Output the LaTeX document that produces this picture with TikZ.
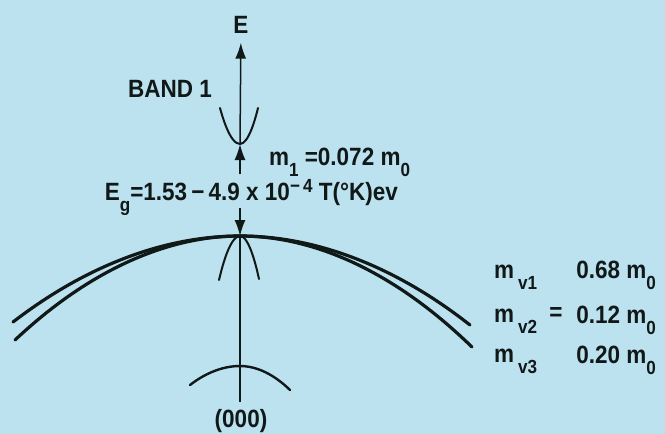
\documentclass[tikz,border=0pt]{standalone}
\usepackage{fontspec}
\setmainfont{Liberation Sans}[FakeStretch=0.9]
\usetikzlibrary{arrows.meta}

\definecolor{paper}{RGB}{188,226,240}
\definecolor{ink}{RGB}{16,24,24}

\newcommand{\lowr}[1]{\raisebox{-5.5pt}{\fontsize{9.5}{10}\selectfont #1}}
\newcommand{\highr}[1]{\raisebox{4pt}{\fontsize{9.5}{10}\selectfont #1}}

\begin{document}
\begin{tikzpicture}[x=0.5pt, y=-0.5pt,
    every node/.style={font=\fontsize{12.5}{14}\selectfont\bfseries, text=ink},
    band/.style={ink, line width=1.6pt, line cap=round},
    thinband/.style={ink, line width=1pt, line cap=round},
    axis/.style={ink, line width=0.75pt},
    tip/.style={-{Latex[length=8pt, width=5.5pt]}}]
    \fill[paper] (0,0) rectangle (665,434);
    \useasboundingbox (0,0) rectangle (665,434);

    % k = 0 points
    \coordinate (cbmin) at (240,144);
    \coordinate (vbmax) at (240,236);
    \coordinate (somax) at (240,366);
    \coordinate (gamma) at (240,402);
    \coordinate (m1tail) at (240,174);
    \coordinate (egtail) at (240,208);

    \node (E) at (241,25) {E};
    \draw[axis, tip, shorten >=1pt] (cbmin) -- (E);
    \draw[axis, tip] (m1tail) -- (cbmin);
    \draw[axis, tip] (egtail) -- (vbmax);
    \draw[axis] (vbmax) -- (gamma);

    % bands
    \draw[thinband] (220,108) parabola bend (cbmin) (258,108);
    \draw[band] (13,322) parabola bend (vbmax) (470,325);
    \draw[band] (15,340) parabola bend (vbmax) (472,347);
    \draw[thinband] (219,280) parabola bend (vbmax) (259,279);
    \draw[thinband, line width=1.2pt] (190,385) parabola bend (somax) (290,390);

    % labels
    \node (band1) at (170,89) {BAND 1};
    \node[anchor=base west] (m1) at (262,165) {m\lowr{1} =0.072 m\lowr{0}};
    \node[anchor=base east] (eg) at (405,200)
        {E\lowr{g}=1.53\,−\,4.9 x 10\highr{−\,4} T(°K)ev};
    \node (g000) at (241,421) {(000)};

    \node[anchor=base west] (mv1) at (487,278) {m\,\lowr{v1}};
    \node[anchor=base west] (mv2) at (487,322) {m\,\lowr{v2}};
    \node[anchor=base west] (mv3) at (487,362) {m\,\lowr{v3}};
    \node (eq) at (556,314) {=};
    \node[anchor=base east] (val1) at (663,278) {0.68 m\lowr{0}};
    \node[anchor=base east] (val2) at (663,323) {0.12 m\lowr{0}};
    \node[anchor=base east] (val3) at (663,363) {0.20 m\lowr{0}};
\end{tikzpicture}
\end{document}
